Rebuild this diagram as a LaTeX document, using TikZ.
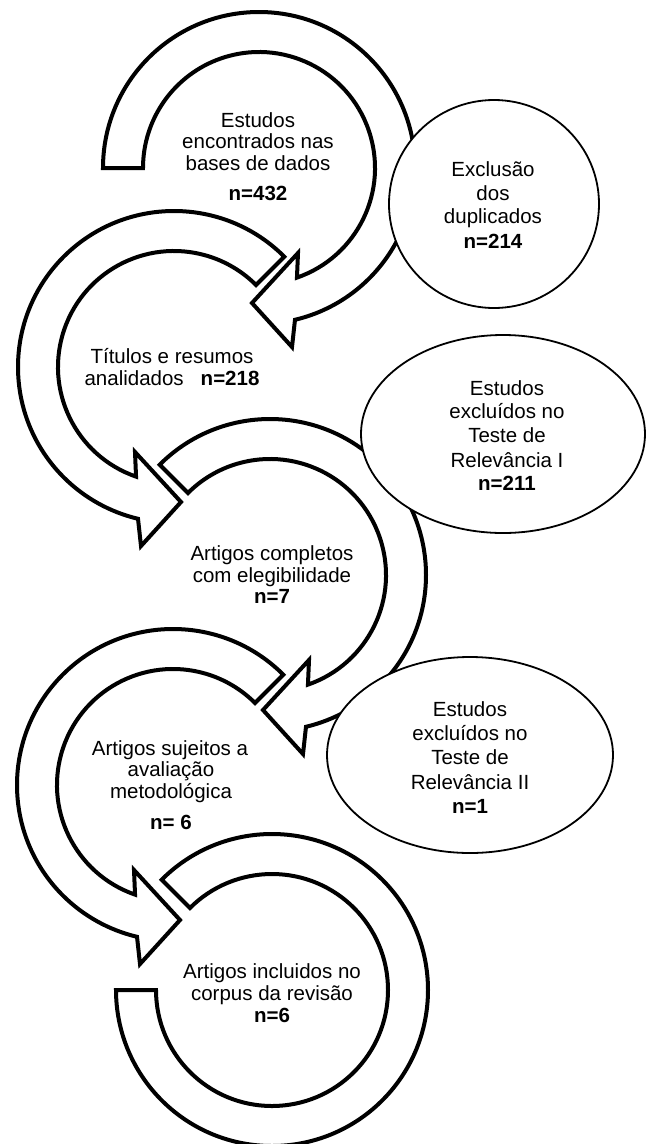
\documentclass[tikz,border=0pt]{standalone}
\usepackage{fontspec}
\setmainfont{Liberation Sans}
\usetikzlibrary{shapes.geometric}
\tikzset{
  arr/.style={draw=black, fill=white, line width=4pt, line join=miter, miter limit=10},
  bub/.style={draw=black, fill=white, line width=1.8pt, ellipse, inner sep=0pt},
  tx/.style={anchor=base, inner sep=0pt, font=\fontsize{20.5}{24}\selectfont},
  bx/.style={anchor=base, inner sep=0pt, font=\fontsize{20.5}{24}\selectfont\bfseries},
}
\newcommand{\cwarrow}[1]{%
  (#1:156) arc[start angle=#1, end angle=436.66, radius=156]
  -- (33,179) -- (-7,135) -- (39,85) -- (70.9:116)
  arc[start angle=70.9, end angle=#1-360, radius=116] -- cycle}
\begin{document}
\begin{tikzpicture}[x=1pt, y=-1pt]
\useasboundingbox (0,0) rectangle (646,1144);
\clip (0,0) rectangle (646,1144);
% arrows
\begin{scope}[shift={(259,168)}]
  \draw[arr] \cwarrow{180};
\end{scope}
\begin{scope}[shift={(174,367)}, xscale=-1]
  \draw[arr] \cwarrow{225};
\end{scope}
\begin{scope}[shift={(270,575)}]
  \draw[arr] \cwarrow{225};
\end{scope}
\begin{scope}[shift={(173,785)}, xscale=-1]
  \draw[arr] \cwarrow{225};
\end{scope}
\begin{scope}[shift={(272,990)}]
  \draw[arr] (225:156) arc[start angle=225, end angle=540, radius=156]
     -- (540:116) arc[start angle=540, end angle=225, radius=116] -- cycle;
\end{scope}
% ellipses
\node[bub, minimum width=210pt, minimum height=208pt] (e1) at (494,204) {};
\node[bub, minimum width=284pt, minimum height=198pt] (e2) at (503,434) {};
\node[bub, minimum width=286pt, minimum height=196pt] (e3) at (470,755) {};
% texts arrow 1
\node[tx] (a1l1) at (258,127) {Estudos};
\node[tx] (a1l2) at (258,148) {encontrados nas};
\node[tx] (a1l3) at (258,170) {bases de dados};
\node[bx] (a1l4) at (258,200) {n=432};
% arrow 2
\node[tx] (a2l1) at (172,363) {Títulos e resumos};
\node[tx] (a2l2) at (172,385) {analidados\hspace{17pt}\textbf{n=218}};
% arrow 3
\node[tx] (a3l1) at (272,560) {Artigos completos};
\node[tx] (a3l2) at (272,582) {com elegibilidade};
\node[bx] (a3l3) at (272,603) {n=7};
% arrow 4
\node[tx] (a4l1) at (170,755) {Artigos sujeitos a};
\node[tx] (a4l2) at (171,776) {avaliação};
\node[tx] (a4l3) at (171,798) {metodológica};
\node[bx] (a4l4) at (171,829) {n= 6};
% arrow 5
\node[tx] (a5l1) at (272,978) {Artigos incluidos no};
\node[tx] (a5l2) at (272,1000) {corpus da revisão};
\node[bx] (a5l3) at (272,1022) {n=6};
% ellipse 1
\node[tx] (e1l1) at (493,176) {Exclusão};
\node[tx] (e1l2) at (493,200) {dos};
\node[tx] (e1l3) at (493,223) {duplicados};
\node[bx] (e1l4) at (493,248) {n=214};
% ellipse 2
\node[tx] (e2l1) at (507,395) {Estudos};
\node[tx] (e2l2) at (507,418) {excluídos no};
\node[tx] (e2l3) at (507,442) {Teste de};
\node[tx] (e2l4) at (507,467) {Relevância I};
\node[bx] (e2l5) at (507,490) {n=211};
% ellipse 3
\node[tx] (e3l1) at (470,716) {Estudos};
\node[tx] (e3l2) at (470,740) {excluídos no};
\node[tx] (e3l3) at (470,764) {Teste de};
\node[tx] (e3l4) at (470,789) {Relevância II};
\node[bx] (e3l5) at (470,813) {n=1};
\end{tikzpicture}
\end{document}
